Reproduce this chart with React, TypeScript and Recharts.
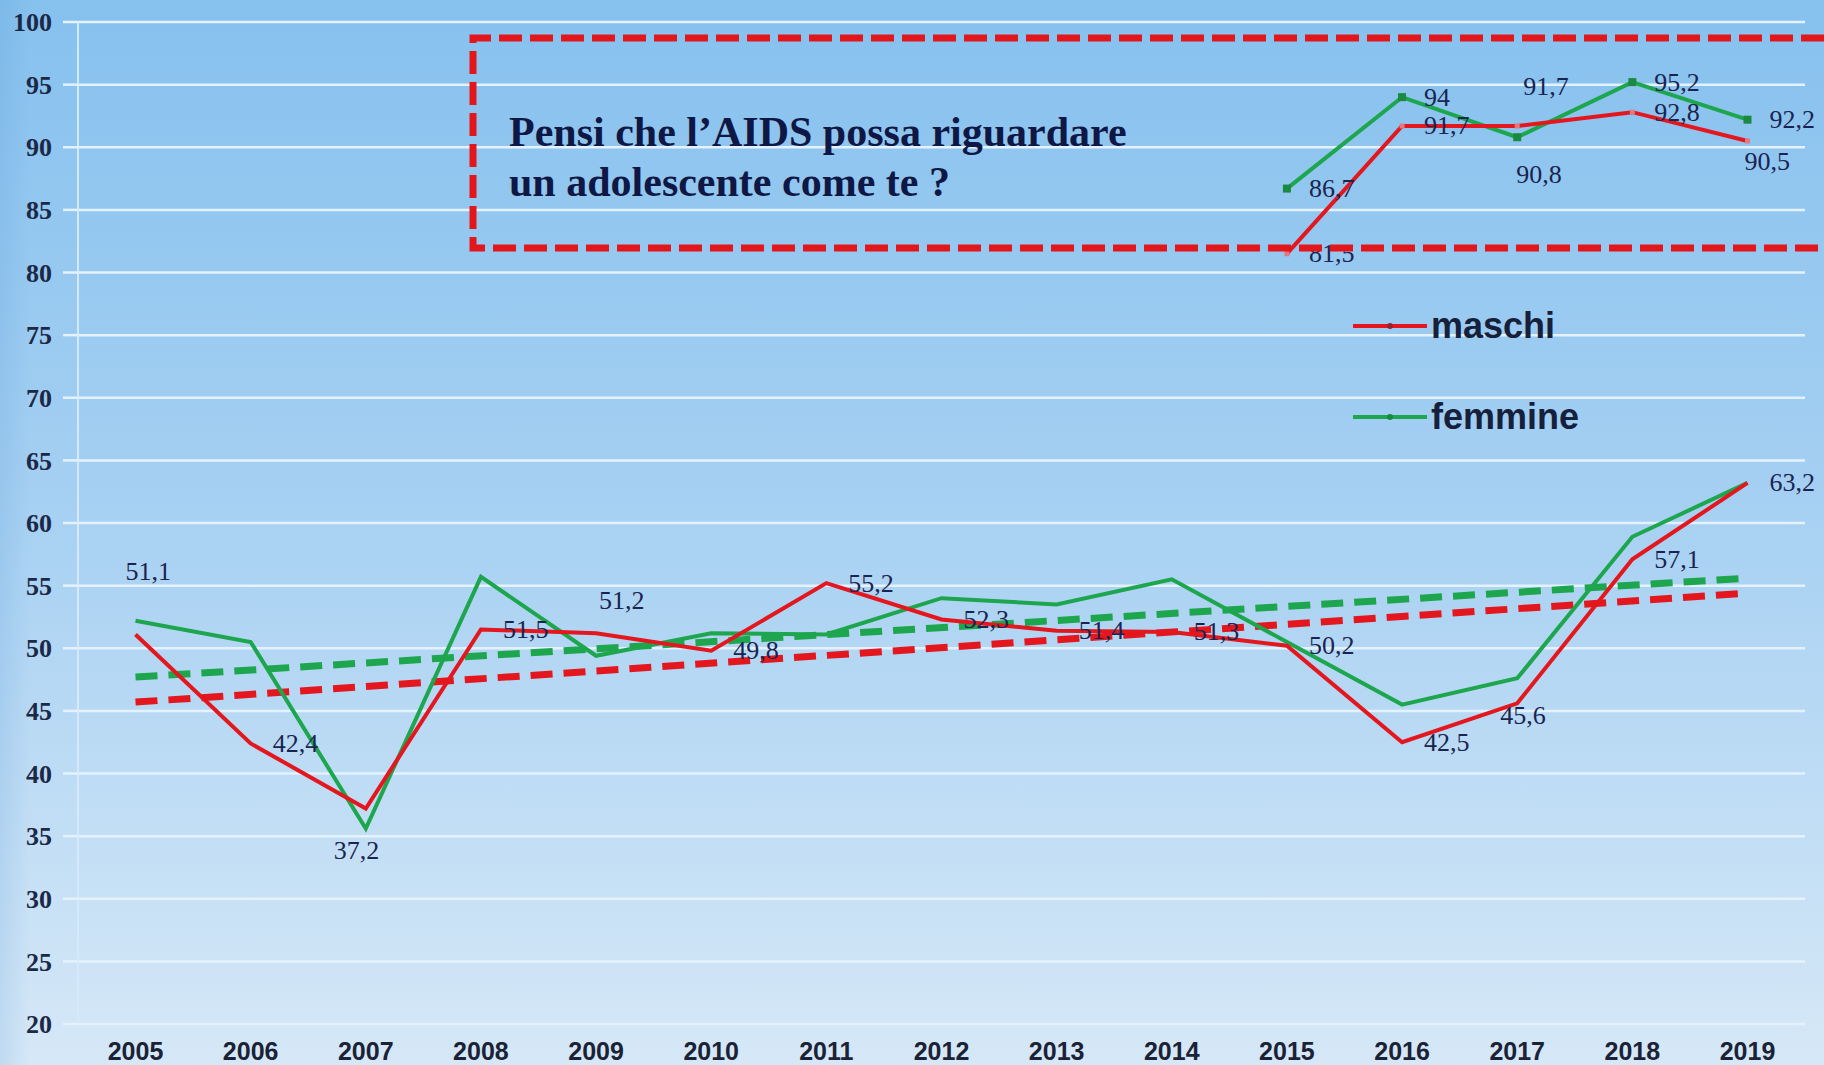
import React from "react";
import {
  LineChart,
  Line,
  XAxis,
  YAxis,
  CartesianGrid,
  LabelList,
} from "recharts";

const years = ["2005", "2006", "2007", "2008", "2009", "2010", "2011", "2012", "2013", "2014", "2015", "2016", "2017", "2018", "2019"];

// lower chart
const maschi = [51.1, 42.4, 37.2, 51.5, 51.2, 49.8, 55.2, 52.3, 51.4, 51.3, 50.2, 42.5, 45.6, 57.1, 63.2];
const femmine = [52.2, 50.5, 35.6, 55.7, 49.4, 51.2, 51.1, 54.0, 53.5, 55.5, 50.5, 45.5, 47.6, 58.9, 63.2];

// trend lines (endpoints)
const trendMaschi = [45.7, null, null, null, null, null, null, null, null, null, null, null, null, null, 54.4];
const trendFemmine = [47.7, null, null, null, null, null, null, null, null, null, null, null, null, null, 55.6];

// "Pensi che l'AIDS possa riguardare un adolescente come te ?"
const maschiAids = [null, null, null, null, null, null, null, null, null, null, 81.5, 91.7, 91.7, 92.8, 90.5];
const femmineAids = [null, null, null, null, null, null, null, null, null, null, 86.7, 94, 90.8, 95.2, 92.2];

const yTicks = [20, 25, 30, 35, 40, 45, 50, 55, 60, 65, 70, 75, 80, 85, 90, 95, 100];

const data = years.map((year, i) => ({
  year,
  maschi: maschi[i],
  femmine: femmine[i],
  trendMaschi: trendMaschi[i],
  trendFemmine: trendFemmine[i],
  maschiAids: maschiAids[i],
  femmineAids: femmineAids[i],
}));

const RED = "#e3171d";
const GREEN = "#1ea64e";
const INK = "#1a2450";

// label placement: null = to the right of the point, otherwise [dx, dy]
type Pos = null | [number, number];
const R: Pos = null;
const maschiLabelPos: Pos[] = [[-10, -63], R, [-32, 42], R, [3, -33], R, R, R, R, R, R, R, [-17, 12], R, R];
const maschiAidsLabelPos: Pos[] = [R, R, R, R, R, R, R, R, R, R, R, R, [6, -39], R, [-3, 21]];
const femmineAidsLabelPos: Pos[] = [R, R, R, R, R, R, R, R, R, R, R, R, [-1, 37], R, R];

const makeLabel = (pos: Pos[]) => (props: any) => {
  const { x, y, value, index } = props;
  if (value == null || x == null) return null;
  const p = pos[index] ?? null;
  const dx = p ? p[0] : 22;
  const dy = p ? p[1] : 0;
  return (
    <text
      x={x + dx}
      y={y + dy}
      textAnchor="start"
      dominantBaseline="central"
      fontFamily="'Liberation Serif', 'Times New Roman', serif"
      fontSize={26}
      fill={INK}
    >
      {String(value).replace(".", ",")}
    </text>
  );
};

const squareDot = (size: number, fill: string) => (props: any) => {
  const { cx, cy, index } = props;
  if (cx == null || cy == null) return <g key={index} />;
  return <rect key={index} x={cx - size / 2} y={cy - size / 2} width={size} height={size} fill={fill} />;
};

const XTick = (props: any) => {
  const { x, y, payload } = props;
  return (
    <text
      x={x}
      y={y + 27}
      textAnchor="middle"
      dominantBaseline="central"
      fontFamily="'Liberation Sans', Arial, sans-serif"
      fontWeight="bold"
      fontSize={25}
      fill="#1b2236"
    >
      {payload.value}
    </text>
  );
};

const legendItems = [
  { name: "maschi", color: RED, mark: "#9a2030" },
  { name: "femmine", color: GREEN, mark: "#168a3e" },
];

const LegendBox = () => (
  <div style={{ position: "absolute", left: 1353, top: 303 }}>
    {legendItems.map((it) => (
      <div key={it.name} style={{ display: "flex", alignItems: "center", height: 46, marginBottom: 45 }}>
        <svg width={74} height={10}>
          <line x1={0} y1={5} x2={74} y2={5} stroke={it.color} strokeWidth={4} />
          <circle cx={37} cy={5} r={3} fill={it.mark} />
        </svg>
        <span
          style={{
            fontFamily: "'Liberation Sans', Arial, sans-serif",
            fontWeight: "bold",
            fontSize: 36,
            color: "#16203a",
            marginLeft: 4,
          }}
        >
          {it.name}
        </span>
      </div>
    ))}
  </div>
);

export default function App() {
  return (
    <div
      style={{
        position: "absolute",
        left: 0,
        top: 0,
        width: 1824,
        height: 1065,
        overflow: "hidden",
        background:
          "linear-gradient(90deg, rgba(70,140,205,0.15) 0px, rgba(70,140,205,0) 30px), linear-gradient(180deg, #86c1ee 0%, #a4cff2 45%, #d6e8f7 100%)",
      }}
    >
      <LineChart width={1824} height={1065} data={data} margin={{ top: 22, right: 19, bottom: 0, left: 0 }}>
        <CartesianGrid vertical={false} stroke="#e4f2fd" strokeWidth={2.5} />
        <XAxis
          dataKey="year"
          interval={0}
          height={41}
          tickSize={0}
          tickMargin={0}
          axisLine={false}
          padding={{ left: 57.5, right: 57.5 }}
          tick={<XTick />}
        />
        <YAxis
          domain={[20, 100]}
          ticks={yTicks}
          width={78}
          tickSize={15}
          tickMargin={11}
          tickLine={{ stroke: "#e4f2fd", strokeWidth: 2.5 }}
          axisLine={{ stroke: "#d4e9fa", strokeWidth: 2 }}
          tick={{
            fill: "#1b2947",
            fontSize: 26,
            fontWeight: "bold",
            fontFamily: "'Liberation Serif', 'Times New Roman', serif",
          }}
        />
        <Line
          dataKey="trendFemmine"
          stroke={GREEN}
          strokeWidth={7}
          strokeDasharray="22 11"
          dot={false}
          connectNulls
          isAnimationActive={false}
        />
        <Line
          dataKey="trendMaschi"
          stroke={RED}
          strokeWidth={7}
          strokeDasharray="22 11"
          dot={false}
          connectNulls
          isAnimationActive={false}
        />
        <Line dataKey="femmine" stroke={GREEN} strokeWidth={4} dot={false} isAnimationActive={false} />
        <Line dataKey="maschi" stroke={RED} strokeWidth={4} dot={false} isAnimationActive={false}>
          <LabelList dataKey="maschi" content={makeLabel(maschiLabelPos)} />
        </Line>
        <Line
          dataKey="femmineAids"
          stroke={GREEN}
          strokeWidth={4}
          dot={squareDot(8, "#1a8a40")}
          isAnimationActive={false}
        >
          <LabelList dataKey="femmineAids" content={makeLabel(femmineAidsLabelPos)} />
        </Line>
        <Line
          dataKey="maschiAids"
          stroke={RED}
          strokeWidth={4}
          dot={squareDot(5, "#e07a80")}
          isAnimationActive={false}
        >
          <LabelList dataKey="maschiAids" content={makeLabel(maschiAidsLabelPos)} />
        </Line>
      </LineChart>
      <LegendBox />
      <svg
        width={1824}
        height={1065}
        style={{ position: "absolute", left: 0, top: 0, pointerEvents: "none" }}
      >
        <path
          d="M 1824 38 L 473 38 L 473 248 L 1824 248"
          fill="none"
          stroke="#e3161b"
          strokeWidth={7}
          strokeDasharray="23 8"
        />
        <text
          fontFamily="'Liberation Serif', 'Times New Roman', serif"
          fontWeight="bold"
          fontSize={42}
          fill="#0f1745"
        >
          <tspan x={509} y={146}>Pensi che l’AIDS possa riguardare</tspan>
          <tspan x={509} y={196}>un adolescente come te ?</tspan>
        </text>
      </svg>
    </div>
  );
}
